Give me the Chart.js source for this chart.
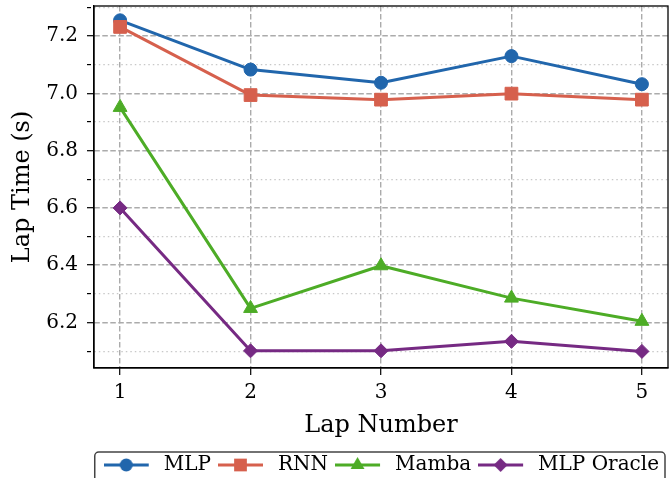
<!DOCTYPE html>
<html>
<head>
<meta charset="utf-8">
<script src="https://cdn.jsdelivr.net/npm/chart.js@4.4.1/dist/chart.umd.min.js"></script>
<style>
  html, body { margin: 0; padding: 0; background: #fff; }
</style>
</head>
<body>
<canvas id="lapChart" width="670" height="478"></canvas>
<script>
// values
const laps = [1, 2, 3, 4, 5];
const mlp = [7.255, 7.083, 7.037, 7.130, 7.032];
const rnn = [7.232, 6.994, 6.978, 6.999, 6.978];
const mamba = [6.951, 6.249, 6.398, 6.285, 6.204];
const mlpOracle = [6.600, 6.101, 6.101, 6.134, 6.099];
const seriesNames = ['MLP', 'RNN', 'Mamba', 'MLP Oracle'];
const yTickLabels = ['6.2', '6.4', '6.6', '6.8', '7.0', '7.2'];

const colors = ['#2166ac', '#d6604d', '#4dac26', '#762a83'];
const markers = ['circle', 'rect', 'triangle', 'rectRot'];
const markerSizes = [6.5, 9, 8, 7];
const seriesValues = [mlp, rnn, mamba, mlpOracle];

Chart.defaults.font.family = "'DejaVu Serif', serif";
Chart.defaults.color = '#000';

function isMajor(ctx) {
    return ctx.tick && Math.round(ctx.tick.value * 10) % 2 === 0;
}

// line+marker pictures for the legend handles (handle sits left in a wider image)
function makeHandle(i) {
    const c = document.createElement('canvas');
    c.width = 52; c.height = 22;
    const g = c.getContext('2d');
    g.strokeStyle = colors[i];
    g.lineWidth = 3;
    g.beginPath(); g.moveTo(0, 11); g.lineTo(45, 11); g.stroke();
    g.fillStyle = colors[i];
    Chart.helpers.drawPoint(g, {pointStyle: markers[i], radius: markerSizes[i], rotation: 0, borderWidth: 0}, 22.5, 11);
    return c;
}
const handles = seriesNames.map((n, i) => makeHandle(i));

const framePlugin = {
    id: 'frame',
    afterDraw(chart) {
        const ctx = chart.ctx;
        const a = chart.chartArea;
        ctx.save();
        ctx.strokeStyle = '#000';
        ctx.lineWidth = 1.3;
        ctx.strokeRect(a.left, a.top, a.right - a.left, a.bottom - a.top);
        const boxes = chart.legend.legendHitBoxes;
        if (boxes && boxes.length) {
            const first = boxes[0], last = boxes[boxes.length - 1];
            const left = first.left - 11, right = last.left + last.width + 6;
            const top = first.top - 3;
            ctx.strokeStyle = '#444';
            ctx.lineWidth = 1.5;
            ctx.beginPath();
            ctx.roundRect(left, top, right - left, 60, 4);
            ctx.stroke();
        }
        ctx.restore();
    }
};

const datasets = seriesNames.map((name, i) => ({
    label: name,
    data: laps.map((x, j) => ({x: x, y: seriesValues[i][j]})),
    borderColor: colors[i],
    backgroundColor: colors[i],
    borderWidth: 3,
    borderJoinStyle: 'round',
    tension: 0,
    pointStyle: markers[i],
    pointRadius: markerSizes[i],
    pointHoverRadius: markerSizes[i],
    pointBackgroundColor: colors[i],
    pointBorderColor: colors[i],
    pointBorderWidth: 1,
    order: seriesNames.length - i,
    clip: false
}));

const chart = new Chart(document.getElementById('lapChart'), {
    type: 'line',
    data: {datasets: datasets},
    options: {
        responsive: false,
        animation: false,
        layout: {autoPadding: false, padding: {top: 6, right: 2, left: 0, bottom: -7}},
        scales: {
            x: {
                type: 'linear',
                min: 0.8,
                max: 5.2,
                afterFit(scale) {
                    scale.height = 78;
                    scale.paddingLeft = 0;
                    scale.paddingRight = 0;
                },
                title: {display: true, text: 'Lap Number', font: {size: 24}, padding: {top: 0, bottom: 6}},
                ticks: {stepSize: 1, includeBounds: false, padding: 6, font: {size: 20}, color: '#000',
                    callback: v => String(v)},
                grid: {color: '#ababab', lineWidth: 1.4, tickColor: '#000', tickLength: 7, tickWidth: 1.2, tickBorderDash: []},
                border: {color: '#000', width: 1.3, dash: [5.5, 2.5]}
            },
            y: {
                min: 6.041,
                max: 7.305,
                afterFit(scale) {
                    scale.width = 94;
                    scale.paddingTop = 0;
                    scale.paddingBottom = 0;
                },
                title: {display: true, text: 'Lap Time (s)', font: {size: 24}, padding: {top: 8, bottom: 0}},
                ticks: {stepSize: 0.1, includeBounds: false, autoSkip: false, padding: 9, font: {size: 20}, color: '#000',
                    callback: v => {
                        const t = (Math.round(v * 10) / 10).toFixed(1);
                        return yTickLabels.includes(t) ? t : '';
                    }},
                grid: {
                    color: ctx => isMajor(ctx) ? '#ababab' : '#c8c8c8',
                    lineWidth: ctx => isMajor(ctx) ? 1.4 : 1.2,
                    tickColor: '#000', tickLength: 7, tickWidth: 1.2,
                    tickBorderDash: ctx => isMajor(ctx) ? [] : [4, 100]
                },
                border: {color: '#000', width: 1.3, dash: ctx => isMajor(ctx) ? [5.5, 2.5] : [1.5, 3]}
            }
        },
        plugins: {
            tooltip: {enabled: false},
            legend: {
                position: 'bottom',
                align: 'end',
                labels: {
                    usePointStyle: true,
                    pointStyleWidth: 48,
                    padding: 9,
                    font: {size: 20},
                    color: '#000',
                    generateLabels: () => seriesNames.map((name, i) => ({
                        text: name,
                        pointStyle: handles[i],
                        fillStyle: colors[i],
                        strokeStyle: colors[i],
                        lineWidth: 0,
                        hidden: false,
                        datasetIndex: i
                    }))
                }
            }
        }
    },
    plugins: [framePlugin]
});
</script>
</body>
</html>
